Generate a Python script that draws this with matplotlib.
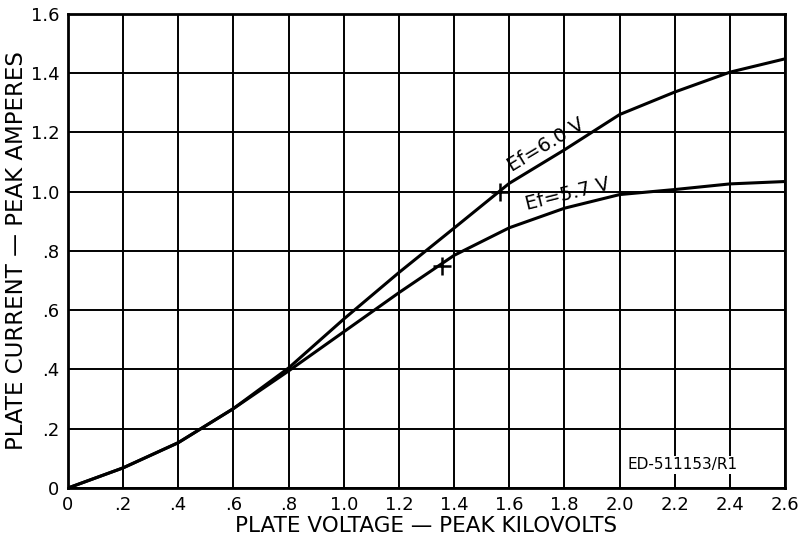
import matplotlib
matplotlib.use("Agg")
import matplotlib.pyplot as plt

# Data
plate_kv = [0, 0.2, 0.4, 0.6, 0.8, 1.0, 1.2, 1.4, 1.6, 1.8, 2.0, 2.2, 2.4, 2.6]
ef_60 = [0, 0.068, 0.153, 0.268, 0.405, 0.57, 0.727, 0.877, 1.028, 1.141, 1.26, 1.336, 1.403, 1.448]
ef_57 = [0, 0.068, 0.153, 0.268, 0.395, 0.527, 0.659, 0.785, 0.878, 0.944, 0.99, 1.007, 1.026, 1.034]

# rating points marked with crosses
mark_x = [1.355, 1.566]
mark_y = [0.75, 1.0]

x_ticks = [0, 0.2, 0.4, 0.6, 0.8, 1.0, 1.2, 1.4, 1.6, 1.8, 2.0, 2.2, 2.4, 2.6]
x_labels = ['0', '.2', '.4', '.6', '.8', '1.0', '1.2', '1.4', '1.6', '1.8', '2.0', '2.2', '2.4', '2.6']
y_ticks = [0, 0.2, 0.4, 0.6, 0.8, 1.0, 1.2, 1.4, 1.6]
y_labels = ['0', '.2', '.4', '.6', '.8', '1.0', '1.2', '1.4', '1.6']

fig = plt.figure(figsize=(7.98, 5.49), dpi=100)
ax = fig.add_axes([0.085, 0.111, 0.899, 0.864])

ax.plot(plate_kv, ef_60, color='black', lw=2.2)
ax.plot(plate_kv, ef_57, color='black', lw=2.2)
ax.plot(mark_x, mark_y, linestyle='none', marker='+', color='black', ms=13, mew=1.8)

ax.set_xlim(0, 2.6)
ax.set_ylim(0, 1.6)
ax.set_xticks(x_ticks)
ax.set_xticklabels(x_labels)
ax.set_yticks(y_ticks)
ax.set_yticklabels(y_labels)
ax.tick_params(length=0, labelsize=13, pad=6)
ax.grid(True, color='black', lw=1.4)
for s in ax.spines.values():
    s.set_linewidth(2)

ax.set_xlabel('PLATE VOLTAGE — PEAK KILOVOLTS', fontsize=15.5, labelpad=1)
ax.set_ylabel('PLATE CURRENT — PEAK AMPERES', fontsize=16.5, labelpad=2)

ax.text(1.735, 1.158, 'Ef=6.0 V', rotation=31, fontsize=14, ha='center', va='center')
ax.text(1.81, 0.99, 'Ef=5.7 V', rotation=14, fontsize=14, ha='center', va='center')
ax.text(2.228, 0.078, 'ED-511153/R1', fontsize=11, ha='center', va='center',
        bbox=dict(facecolor='white', edgecolor='none', pad=1))

fig.savefig('out.png', dpi=100)
